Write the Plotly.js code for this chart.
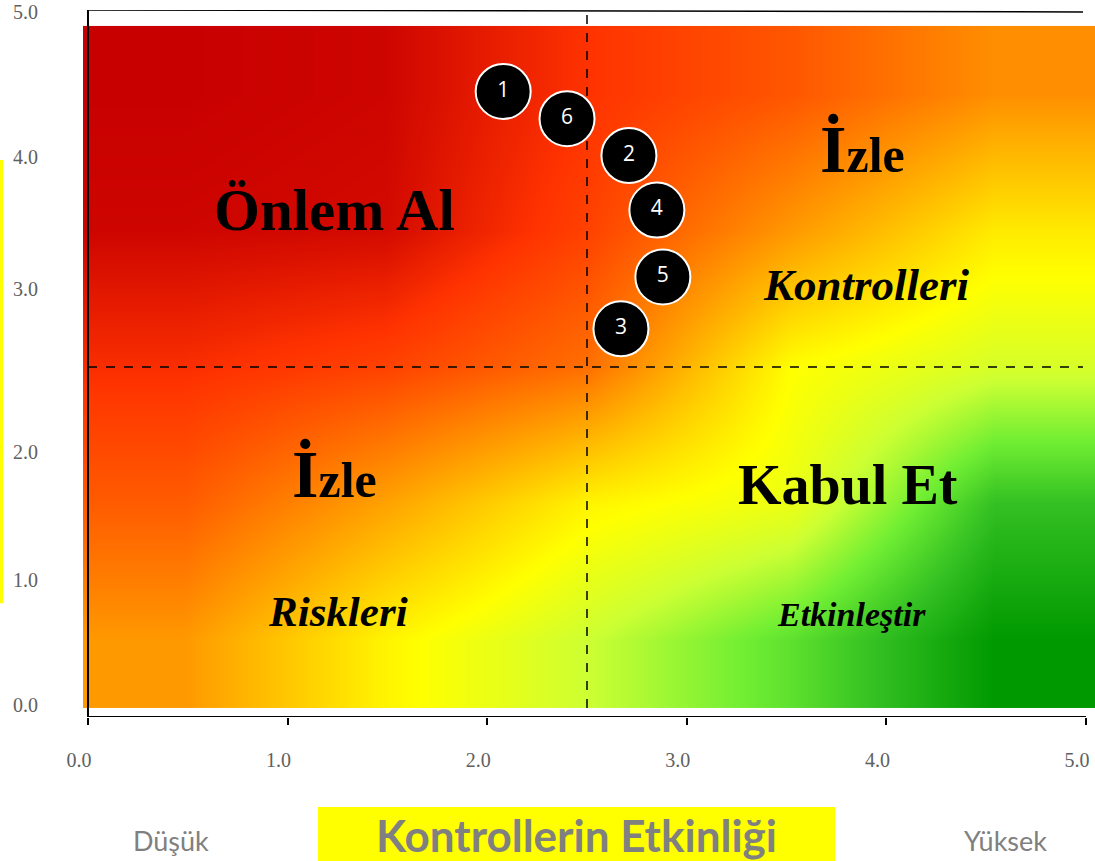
<!DOCTYPE html>
<html>
<head>
<meta charset="utf-8">
<script src="https://cdn.plot.ly/plotly-3.0.1.min.js"></script>
<style>html,body{margin:0;padding:0;background:#fff;}#chart{width:1095px;height:861px;}</style>
</head>
<body>
<div id="chart"></div>
<script>
// ---- data ----
// risk level per cell (rows from bottom y=0..1 up to y=4..5; columns x=0..1 .. 4..5)
const riskLevels = [
  [6.0, 4.2, 3.0, 1.7, 0.0],
  [7.2, 5.8, 4.2, 3.6, 1.0],
  [8.1, 7.7, 6.8, 4.0, 3.2],
  [8.9, 8.8, 7.7, 6.0, 4.4],
  [9.0, 8.9, 8.0, 7.3, 6.2]
];
const riskColors = [
  [0.0, '#009900'], [0.111, '#33c022'], [0.222, '#70ee33'], [0.333, '#ccff33'],
  [0.444, '#ffff00'], [0.555, '#ffcc00'], [0.666, '#ff9900'], [0.777, '#ff6600'],
  [0.888, '#ff3300'], [1.0, '#c80000']
];
const riskIds = ['1', '6', '2', '4', '5', '3'];
const controlScore = [2.08, 2.40, 2.71, 2.85, 2.88, 2.67];
const riskScore = [4.52, 4.32, 4.05, 3.65, 3.16, 2.78];
const xTickVals = [0, 1, 2, 3, 4, 5];
const xTickText = ['0.0', '1.0', '2.0', '3.0', '4.0', '5.0'];
const yTickText = ['0.0', '1.0', '2.0', '3.0', '4.0', '5.0'];
const threshold = 2.5;
const quadrantLabels = ['Önlem Al', 'İzle', 'Kontrolleri', 'İzle', 'Kabul Et', 'Riskleri', 'Etkinleştir'];
const axisTitle = 'Kontrollerin Etkinliği';
const lowLabel = 'Düşük';
const highLabel = 'Yüksek';

// ---- layout helpers ----
const yTickPos = [0.022, 0.938, 1.877, 3.072, 4.04, 5.099];
const serif = 'Liberation Serif, Times New Roman, serif';
const big = (t) => '<span style="font-size:68px">' + t.charAt(0) + '</span>' + t.slice(1);

const traces = [
  {
    type: 'heatmap',
    z: riskLevels,
    x0: 0.482, dx: 1.014,
    y0: 0.5, dy: 1,
    zmin: 0, zmax: 9,
    colorscale: riskColors,
    zsmooth: 'best',
    showscale: false,
    hoverinfo: 'skip'
  },
  {
    type: 'scatter',
    mode: 'markers+text',
    x: controlScore,
    y: riskScore,
    text: riskIds,
    textposition: 'middle center',
    textfont: {family: 'Open Sans, sans-serif', size: 21, color: '#ffffff'},
    marker: {size: 55, color: '#000000', line: {color: '#ffffff', width: 2}},
    hoverinfo: 'skip',
    showlegend: false
  }
];

const ann = (x, y, text, size, italic) => ({
  x: x, y: y, xref: 'x', yref: 'y', text: italic ? '<i>' + text + '</i>' : text,
  showarrow: false,
  font: {family: serif, size: size, color: '#000000', weight: 'bold'},
  xanchor: 'center', yanchor: 'middle'
});

const layout = {
  width: 1095, height: 861,
  margin: {l: 83, r: 0, t: 10, b: 144},
  paper_bgcolor: '#ffffff', plot_bgcolor: '#ffffff',
  showlegend: false,
  xaxis: {
    range: [-0.025, 5.045], showgrid: false, zeroline: false, showline: false,
    tickvals: xTickVals, ticktext: xTickText,
    ticks: 'outside', ticklen: 7, tickwidth: 2, tickcolor: '#000000',
    ticklabelstandoff: 18, ticklabelshift: -9, ticklabeloverflow: 'allow',
    tickfont: {family: serif, size: 20, color: '#606060'},
    fixedrange: true
  },
  yaxis: {
    range: [-0.066, 5.117], showgrid: false, zeroline: false, showline: false,
    tickvals: yTickPos, ticktext: yTickText,
    ticks: '', ticklabelstandoff: 44, ticklabeloverflow: 'allow',
    tickfont: {family: serif, size: 20, color: '#606060'},
    fixedrange: true
  },
  shapes: [
    // axes frame
    {type: 'line', xref: 'x', yref: 'y', x0: 0, x1: 0, y0: -0.066, y1: 5.117, line: {color: '#000', width: 2}, layer: 'above'},
    {type: 'line', xref: 'x', yref: 'y', x0: 0, x1: 5, y0: -0.066, y1: -0.066, line: {color: '#000', width: 2}, layer: 'above'},
    {type: 'line', xref: 'x', yref: 'y', x0: 0, x1: 4.985, y0: 5.117, y1: 5.103, line: {color: '#000', width: 1.5}, layer: 'above'},
    // thresholds
    {type: 'line', xref: 'x', yref: 'y', x0: threshold, x1: threshold, y0: 0, y1: 5.08, line: {color: '#000', width: 1.5, dash: 'dash'}, layer: 'above'},
    {type: 'line', xref: 'x', yref: 'y', x0: 0, x1: 4.985, y0: threshold, y1: threshold, line: {color: '#000', width: 1.5, dash: 'dash'}, layer: 'above'},
    // yellow bars
    {type: 'rect', xref: 'paper', yref: 'paper', x0: -0.082, x1: -0.079, y0: 0.161, y1: 0.788, fillcolor: '#ffff00', line: {width: 0}},
    {type: 'rect', xref: 'paper', yref: 'paper', x0: 0.2322, x1: 0.7431, y0: -0.2037, y1: -0.1273, fillcolor: '#ffff00', line: {width: 0}}
  ],
  annotations: [
    ann(1.237, 3.651, quadrantLabels[0], 59, false),
    ann(3.878, 4.10, big(quadrantLabels[1]), 50, false),
    ann(3.898, 3.10, quadrantLabels[2], 45, true),
    ann(1.237, 1.715, big(quadrantLabels[3]), 50, false),
    ann(3.808, 1.635, quadrantLabels[4], 56, false),
    ann(1.253, 0.704, quadrantLabels[5], 43, true),
    ann(3.823, 0.682, quadrantLabels[6], 34, true),
    {xref: 'paper', yref: 'paper', x: 0.488, y: -0.2045, text: axisTitle, showarrow: false,
     font: {family: 'Lato, sans-serif', size: 44, color: '#808080', weight: 'bold'}, xanchor: 'center', yanchor: 'bottom', borderpad: 0},
    {xref: 'paper', yref: 'paper', x: 0.087, y: -0.1745, text: lowLabel, showarrow: false,
     font: {family: 'Lato, sans-serif', size: 27, color: '#808080'}, xanchor: 'center', yanchor: 'middle'},
    {xref: 'paper', yref: 'paper', x: 0.912, y: -0.1745, text: highLabel, showarrow: false,
     font: {family: 'Lato, sans-serif', size: 27, color: '#808080'}, xanchor: 'center', yanchor: 'middle'}
  ]
};

Plotly.newPlot('chart', traces, layout, {staticPlot: true, displayModeBar: false});
</script>
</body>
</html>
